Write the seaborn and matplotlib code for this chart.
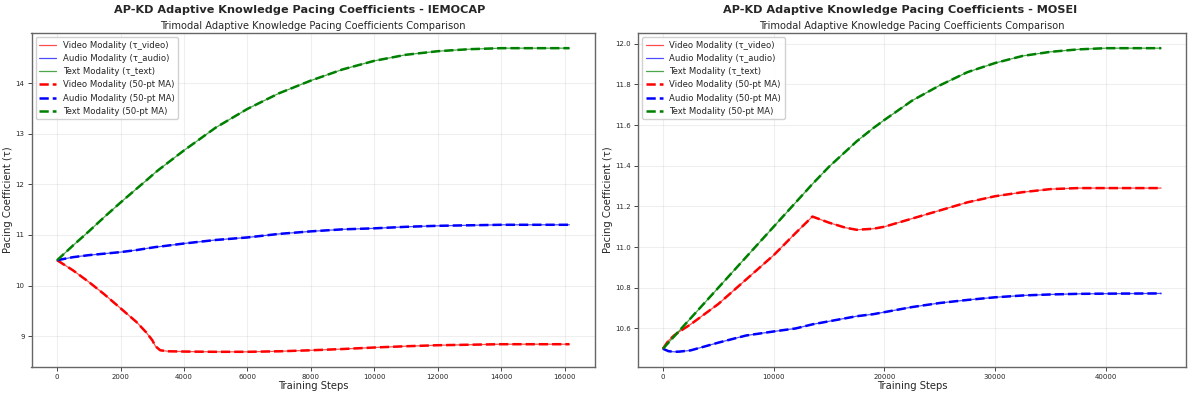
import numpy as np
import pandas as pd
import seaborn as sns
import matplotlib
matplotlib.use("Agg")
import matplotlib.pyplot as plt

# values
# IEMOCAP
iem_steps = [0, 500, 1000, 1500, 2000, 2500, 2800, 3000, 3100, 3250, 3500, 4000, 5000,
             6000, 7000, 8000, 9000, 10000, 11000, 12000, 13000, 14000, 15000, 16150]
iem_video = [10.50, 10.30, 10.07, 9.82, 9.55, 9.28, 9.08, 8.92, 8.80, 8.72, 8.70, 8.695, 8.69,
             8.69, 8.70, 8.72, 8.745, 8.775, 8.80, 8.82, 8.83, 8.84, 8.84, 8.84]
iem_audio = [10.50, 10.56, 10.60, 10.63, 10.66, 10.70, 10.73, 10.75, 10.76, 10.77, 10.79, 10.83, 10.90,
             10.95, 11.02, 11.07, 11.11, 11.13, 11.16, 11.18, 11.19, 11.20, 11.20, 11.20]
iem_text = [10.50, 10.79, 11.07, 11.36, 11.64, 11.91, 12.07, 12.18, 12.235, 12.31, 12.43, 12.67, 13.12,
            13.49, 13.80, 14.05, 14.27, 14.44, 14.56, 14.63, 14.67, 14.69, 14.69, 14.69]

# MOSEI
mos_steps = [0, 500, 1000, 1500, 2500, 5000, 7500, 10000, 12000, 13500, 15000, 16500, 17500,
             19000, 20000, 22500, 25000, 27500, 30000, 32500, 35000, 37500, 40000, 45000]
mos_video = [10.50, 10.54, 10.565, 10.585, 10.62, 10.72, 10.84, 10.96, 11.07, 11.15, 11.12, 11.095, 11.085,
             11.09, 11.10, 11.14, 11.18, 11.22, 11.25, 11.27, 11.285, 11.29, 11.29, 11.29]
mos_audio = [10.50, 10.488, 10.485, 10.486, 10.492, 10.53, 10.565, 10.585, 10.60, 10.62, 10.635, 10.65, 10.66,
             10.67, 10.68, 10.705, 10.725, 10.74, 10.753, 10.762, 10.767, 10.77, 10.771, 10.772]
mos_text = [10.50, 10.53, 10.56, 10.59, 10.65, 10.80, 10.95, 11.10, 11.22, 11.31, 11.395, 11.47, 11.52,
            11.585, 11.625, 11.72, 11.795, 11.86, 11.905, 11.94, 11.96, 11.972, 11.978, 11.978]

datasets = ["IEMOCAP", "MOSEI"]
modalities = ["video", "audio", "text"]
colors = {"video": "red", "audio": "blue", "text": "green"}
names = {"video": "Video", "audio": "Audio", "text": "Text"}

df_iem = pd.DataFrame({"step": iem_steps, "video": iem_video, "audio": iem_audio, "text": iem_text})
df_mos = pd.DataFrame({"step": mos_steps, "video": mos_video, "audio": mos_audio, "text": mos_text})
frames = {"IEMOCAP": df_iem, "MOSEI": df_mos}

sns.set_style("white")
plt.rcParams['font.family'] = ['DejaVu Sans']

fig = plt.figure(figsize=(12, 3.97), dpi=100)
ax1 = fig.add_axes([0.02625, 0.0756, 0.4696, 0.8413])
ax2 = fig.add_axes([0.5317, 0.0756, 0.4567, 0.8413])

for ax, name, xc in zip([ax1, ax2], datasets, [0.25, 0.75]):
    df = frames[name]
    # raw coefficient curves
    for m in modalities:
        sns.lineplot(data=df, x="step", y=m, color=colors[m], linewidth=0.9, alpha=0.7,
                     label=f"{names[m]} Modality (τ_{m})", ax=ax, sort=False)
    # moving average curves (dashed, on top)
    for m in modalities:
        sns.lineplot(data=df, x="step", y=m, color=colors[m], linewidth=1.8, linestyle="--",
                     label=f"{names[m]} Modality (50-pt MA)", ax=ax, sort=False)

    ax.set_title("Trimodal Adaptive Knowledge Pacing Coefficients Comparison", fontsize=7.1, pad=3)
    fig.text(xc, 0.975, f"AP-KD Adaptive Knowledge Pacing Coefficients - {name}",
             ha="center", va="center", fontsize=8.1, fontweight="bold")
    ax.set_xlabel("Training Steps", fontsize=7.2, labelpad=1)
    ax.set_ylabel("Pacing Coefficient (τ)", fontsize=7.2, labelpad=2)
    ax.tick_params(labelsize=5.0, length=3, width=0.6, pad=2, left=True, bottom=True)
    ax.grid(True, alpha=0.3)
    for s in ax.spines.values():
        s.set_color("#666666")
        s.set_linewidth(1.0)
    ax.legend(loc="upper left", fontsize=6.1, framealpha=0.9)

fig.savefig("out.png", dpi=100)
